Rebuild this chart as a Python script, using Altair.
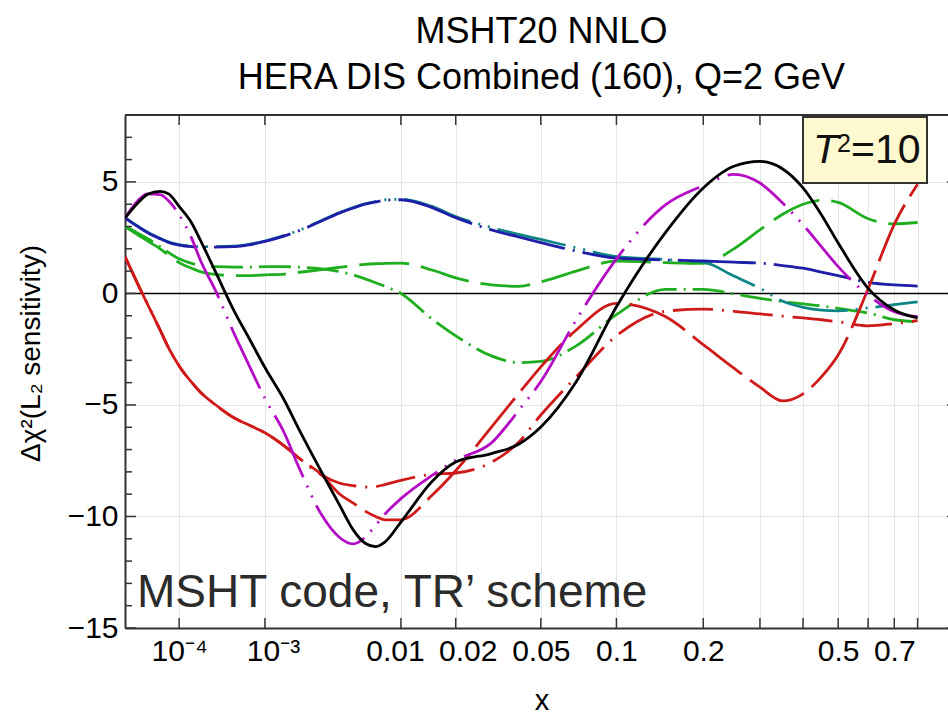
import altair as alt
import pandas as pd

# Bjorken-x sampling points shared by every curve
X_VALUES = [1e-5, 2e-5, 3e-5, 5e-5, 7e-5, 1e-4, 1.5e-4, 2e-4, 3e-4, 5e-4, 7e-4,
            1e-3, 1.5e-3, 2e-3, 3e-3, 4e-3, 5e-3, 6e-3, 7e-3, 8e-3,
            0.01, 0.015, 0.02, 0.03, 0.04, 0.05, 0.07, 0.1, 0.15, 0.2,
            0.25, 0.3, 0.35, 0.4, 0.45, 0.5, 0.6, 0.7, 0.8]

# L2 sensitivity (delta chi^2) per curve
BLACK = [3.38, 4.10, 4.45, 4.58, 4.45, 3.90, 3.17, 2.33, 1.00, -0.85, -2.00,
         -3.32, -4.81, -6.14, -8.05, -9.46, -10.60, -11.20, -11.35, -11.15,
         -10.25, -8.43, -7.56, -7.18, -6.76, -5.99, -3.96, -0.60, 2.75, 4.73,
         5.70, 5.92, 5.58, 4.73, 3.53, 2.26, 0.23, -0.74, -1.10]
MAGENTA = [3.38, 4.20, 4.46, 4.43, 4.13, 3.53, 2.48, 1.43, 0.16, -1.87, -3.21,
           -4.71, -6.28, -7.86, -9.96, -10.93, -11.23, -10.93, -10.40, -9.90,
           -9.20, -8.16, -7.48, -6.70, -5.25, -3.95, -1.19, 1.55, 3.98, 4.83,
           5.34, 4.95, 4.05, 3.08, 2.10, 1.20, -0.07, -0.82, -1.04]
BLUE = [3.38, 2.97, 2.72, 2.45, 2.28, 2.17, 2.10, 2.08, 2.08, 2.10, 2.18,
        2.33, 2.58, 2.82, 3.26, 3.60, 3.83, 4.00, 4.10, 4.18,
        4.20, 3.85, 3.40, 2.85, 2.53, 2.28, 1.90, 1.58, 1.50, 1.46,
        1.40, 1.36, 1.25, 1.13, 0.96, 0.80, 0.50, 0.38, 0.33]
TEAL = [3.40, 2.99, 2.74, 2.47, 2.30, 2.19, 2.12, 2.10, 2.10, 2.12, 2.20,
        2.35, 2.60, 2.84, 3.28, 3.62, 3.85, 4.02, 4.12, 4.20,
        4.22, 3.90, 3.45, 2.95, 2.65, 2.42, 2.05, 1.65, 1.52, 1.40,
        0.78, 0.23, -0.35, -0.62, -0.75, -0.78, -0.65, -0.50, -0.38]
GREEN_DASH = [3.00, 2.60, 2.35, 2.00, 1.70, 1.38, 1.13, 0.97, 0.85, 0.80, 0.80,
              0.83, 0.87, 0.95, 1.07, 1.17, 1.25, 1.30, 1.33, 1.35,
              1.36, 1.05, 0.70, 0.38, 0.32, 0.52, 1.00, 1.45, 1.38, 1.35,
              2.00, 2.85, 3.55, 4.00, 4.18, 4.08, 3.35, 3.12, 3.18]
GREEN_DASHDOT = [3.00, 2.68, 2.45, 2.10, 1.82, 1.55, 1.35, 1.25, 1.20, 1.18, 1.18,
                 1.20, 1.20, 1.18, 1.10, 0.98, 0.83, 0.65, 0.48, 0.32,
                 0.00, -1.15, -1.90, -2.80, -3.10, -3.05, -2.35, -0.95, 0.18, 0.18,
                 -0.02, -0.22, -0.37, -0.47, -0.56, -0.67, -0.88, -1.18, -1.27]
RED_DASH = [1.65, 0.33, -0.50, -1.64, -2.48, -3.25, -3.98, -4.45, -4.98, -5.60, -5.90,
            -6.25, -6.85, -7.40, -8.15, -8.98, -9.40, -9.76, -10.00, -10.15,
            -10.15, -9.05, -7.95, -5.99, -4.49, -3.29, -1.64, -0.45, -1.05, -2.30,
            -3.35, -4.20, -4.82, -4.50, -3.74, -2.76, 0.20, 3.10, 4.90]
RED_DASHDOT = [1.65, 0.33, -0.50, -1.64, -2.48, -3.25, -3.98, -4.45, -4.98, -5.60, -5.90,
               -6.25, -6.85, -7.40, -8.15, -8.50, -8.62, -8.68, -8.66, -8.57,
               -8.38, -8.11, -8.05, -7.57, -6.67, -5.45, -3.74, -1.90, -0.80, -0.70,
               -0.80, -0.92, -1.02, -1.10, -1.18, -1.27, -1.45, -1.35, -1.22]

# axis ticks and labels
X_TICKS = [1e-4, 1e-3, 0.01, 0.02, 0.05, 0.1, 0.2, 0.3, 0.4, 0.5, 0.6, 0.7, 0.8]
X_TICK_LABELS = ["10⁻⁴", "10⁻³", "0.01", "0.02", "0.05", "0.1", "0.2",
                 "", "", "0.5", "", "0.7", ""]
Y_MAJOR = [-15, -10, -5, 0, 5]
Y_MINOR = [v for v in range(-15, 9) if v not in Y_MAJOR]

TITLE_LINES = ["MSHT20 NNLO", "HERA DIS Combined (160), Q=2 GeV"]
Y_TITLE = "Δχ²(L₂ sensitivity)"
NOTE = ["MSHT code, TR’ scheme"]

# drawing order (last on top), colour and dash pattern of each curve
CURVES = [
    (GREEN_DASH, "#1fae1f", [50, 12]),
    (GREEN_DASHDOT, "#1fae1f", [32, 7, 2, 7]),
    (TEAL, "#0e8585", [70, 8, 2, 8, 2, 8]),
    (BLUE, "#1e1ea8", [78, 8, 2, 8]),
    (RED_DASHDOT, "#cf1a1a", [40, 9, 2, 9]),
    (RED_DASH, "#cf1a1a", [62, 10]),
    (MAGENTA, "#b40cc4", [68, 9, 2, 9, 2, 9]),
    (BLACK, "#000000", None),
]

W, H = 833, 513
FRAME = "#333333"
GRID = "#e6e6e6"
FONT = "Liberation Sans"

x_scale = alt.Scale(type="pow", exponent=0.2, domain=[1e-5, 1.0], nice=False, zero=False)
y_scale = alt.Scale(domain=[-15, 8], nice=False, zero=False)

label_expr = "''"
for v, lab in reversed(list(zip(X_TICKS, X_TICK_LABELS))):
    label_expr = f"datum.value == {v!r} ? '{lab}' : ({label_expr})"

# crowded labels are nudged apart
label_shift = {
    "condition": [
        {"test": "datum.value == 0.001", "value": 8},
        {"test": "datum.value == 0.01", "value": -6},
        {"test": "datum.value == 0.02", "value": 12},
    ],
    "value": 0,
}

x_axis = alt.Axis(values=X_TICKS, labelExpr=label_expr, grid=True, gridColor=GRID,
                  gridWidth=1, ticks=False, tickSize=0, domain=True, domainColor=FRAME,
                  domainWidth=2, labelFontSize=30, labelPadding=8, labelColor="black",
                  labelOffset=label_shift,
                  labelOverlap=False, labelFlush=False, title="x", titleFontSize=29,
                  titleFontWeight="normal", titleColor="black", titleY=81,
                  titleBaseline="alphabetic")
y_axis = alt.Axis(values=Y_MAJOR, grid=True, gridColor=GRID, gridWidth=1, ticks=False,
                  tickSize=0, domain=True, domainColor=FRAME, domainWidth=2,
                  labelFontSize=30, labelPadding=7, labelColor="black",
                  labelOverlap=False, labelFlush=False, title=Y_TITLE, titleFontSize=28,
                  titleFontWeight="normal", titleColor="black", titleAngle=270,
                  titleX=-94, titleY=238, titleAlign="center", titleBaseline="middle")


def X(field="x:Q"):
    return alt.X(field, scale=x_scale, axis=x_axis)


def Y(field="y:Q"):
    return alt.Y(field, scale=y_scale, axis=y_axis)


layers = []

# zero line
layers.append(
    alt.Chart(pd.DataFrame({"y": [0]})).mark_rule(color="black", strokeWidth=1.5).encode(y=Y())
)

# curves
for values, color, dash in CURVES:
    df = pd.DataFrame({"x": X_VALUES, "y": values})
    kw = dict(color=color, strokeWidth=2.8, interpolate="monotone", clip=True)
    if dash:
        kw["strokeDash"] = dash
    layers.append(alt.Chart(df).mark_line(**kw).encode(x=X(), y=Y()))

# inward ticks on the bottom and top edges
xt = pd.DataFrame({"x": X_TICKS})
layers.append(
    alt.Chart(xt).mark_rule(color=FRAME, strokeWidth=1.5).encode(
        x=X(), y=alt.value(H), y2=alt.value(H - 10)
    )
)
layers.append(
    alt.Chart(xt).mark_rule(color=FRAME, strokeWidth=1.5).encode(
        x=X(), y=alt.value(0), y2=alt.value(10)
    )
)
# inward ticks on the left and right edges
for vals, length in ((Y_MAJOR, 11), (Y_MINOR, 7)):
    yt = pd.DataFrame({"y": vals})
    layers.append(
        alt.Chart(yt).mark_rule(color=FRAME, strokeWidth=1.5).encode(
            y=Y(), x=alt.value(0), x2=alt.value(length)
        )
    )
    layers.append(
        alt.Chart(yt).mark_rule(color=FRAME, strokeWidth=1.5).encode(
            y=Y(), x=alt.value(W), x2=alt.value(W - length)
        )
    )

# top and right frame
frame = pd.DataFrame({"k": [0]})
layers.append(
    alt.Chart(frame).mark_rule(color=FRAME, strokeWidth=2).encode(
        x=alt.value(0), x2=alt.value(W), y=alt.value(0)
    )
)
layers.append(
    alt.Chart(frame).mark_rule(color=FRAME, strokeWidth=2).encode(
        x=alt.value(W), y=alt.value(0), y2=alt.value(H)
    )
)

# T^2 inset box
layers.append(
    alt.Chart(frame).mark_rect(fill="#fff9cf", stroke=FRAME, strokeWidth=2).encode(
        x=alt.value(678), x2=alt.value(802), y=alt.value(2), y2=alt.value(68)
    )
)
layers.append(
    alt.Chart(pd.DataFrame({"t": ["T"]})).mark_text(
        font=FONT, fontSize=41, fontStyle="italic", align="left", baseline="alphabetic",
        color="#111111"
    ).encode(text="t:N", x=alt.value(688), y=alt.value(48))
)
layers.append(
    alt.Chart(pd.DataFrame({"t": ["2"]})).mark_text(
        font=FONT, fontSize=25, align="left", baseline="alphabetic", color="#111111"
    ).encode(text="t:N", x=alt.value(712), y=alt.value(37))
)
layers.append(
    alt.Chart(pd.DataFrame({"t": ["=10"]})).mark_text(
        font=FONT, fontSize=41, align="left", baseline="alphabetic", color="#111111"
    ).encode(text="t:N", x=alt.value(726), y=alt.value(48))
)

# scheme note
layers.append(
    alt.Chart(pd.DataFrame({"t": NOTE})).mark_text(
        font=FONT, fontSize=46, align="left", baseline="alphabetic", color="#2b2b2b"
    ).encode(text="t:N", x=alt.value(12), y=alt.value(492))
)

chart = alt.layer(*layers).properties(
    width=W,
    height=H,
    padding={"left": 125, "top": 115, "right": -10, "bottom": 87},
    autosize=alt.AutoSizeParams(type="none"),
    title=alt.TitleParams(
        text=TITLE_LINES, font=FONT, fontSize=36, fontWeight="normal", color="black",
        anchor="middle", lineHeight=46, offset=17, frame="group"
    ),
).configure_view(stroke="transparent").configure_axis(labelFont=FONT, titleFont=FONT)

chart.save("out.html", embed_options={"renderer": "svg", "actions": False})
